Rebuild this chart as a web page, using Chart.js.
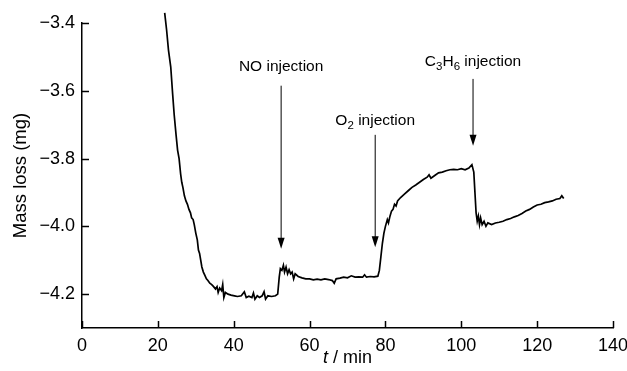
<!DOCTYPE html>
<html>
<head>
<meta charset="utf-8">
<script src="https://cdn.jsdelivr.net/npm/chart.js@4"></script>
<style>
  html, body { margin: 0; padding: 0; background: #fff; }
  #wrap { width: 627px; height: 371px; }
</style>
</head>
<body>
<div id="wrap"><canvas id="massChart" width="627" height="371"></canvas></div>
<script>
// time (min) and mass loss (mg)
const times = [
  21.8, 22.3, 22.8, 23.4, 23.9, 24.3, 24.8, 25.2, 25.6, 26.0, 26.3, 26.6, 27.0, 27.4, 27.8,
  28.2, 28.6, 28.9, 29.3, 29.6, 30.0, 30.4, 30.7, 31.0, 31.3, 31.6, 32.0, 32.4, 32.8, 33.2,
  33.7, 34.2, 34.7, 35.2, 35.6, 35.9, 36.3, 36.8, 37.1, 37.4, 37.8, 38.5, 39.3, 40.2, 41.0,
  42.0, 42.8, 43.3, 44.0, 44.8, 45.2, 45.6, 46.2, 46.8, 47.5, 48.0, 48.4, 49.0, 50.0, 51.0,
  51.6, 52.0, 52.3, 52.7, 53.1, 53.4, 53.8, 54.2, 54.6, 55.0, 55.4, 55.8, 56.2, 57.0, 58.0,
  59.0, 60.0, 61.0, 62.0, 63.0, 64.0, 65.0, 66.0, 66.5, 67.0, 68.0, 69.0, 70.0, 71.0, 72.0,
  73.0, 74.0, 74.5, 75.0, 76.0, 77.0, 78.0, 78.4, 78.8, 79.2, 79.6, 80.0, 80.5, 80.8, 81.2,
  81.6, 82.0, 82.4, 82.8, 83.2, 84.0, 85.0, 86.0, 87.0, 88.0, 89.0, 90.0, 91.0, 91.5, 92.0,
  93.0, 94.0, 95.0, 96.0, 97.0, 98.0, 99.0, 100.0, 101.0, 102.0, 102.8, 103.3, 103.6, 103.9, 104.2,
  104.5, 104.8, 105.1, 105.5, 106.0, 106.5, 107.0, 108.0, 109.0, 110.0, 111.0, 112.0, 113.0, 114.0, 115.0,
  116.0, 117.0, 118.0, 119.0, 120.0, 121.0, 122.0, 123.0, 124.0, 125.0, 126.0, 126.5, 127.0
];
const massLoss = [
  -3.37, -3.42, -3.48, -3.53, -3.61, -3.67, -3.73, -3.775, -3.80, -3.845, -3.87, -3.885, -3.91, -3.925, -3.935,
  -3.95, -3.96, -3.975, -3.98, -3.995, -4.02, -4.04, -4.07, -4.08, -4.10, -4.12, -4.135, -4.145, -4.155, -4.16,
  -4.168, -4.172, -4.178, -4.185, -4.178, -4.195, -4.182, -4.19, -4.172, -4.21, -4.195, -4.20, -4.203, -4.205, -4.207,
  -4.205, -4.193, -4.21, -4.206, -4.21, -4.197, -4.215, -4.205, -4.21, -4.205, -4.193, -4.215, -4.205, -4.207, -4.205,
  -4.20, -4.15, -4.125, -4.13, -4.115, -4.135, -4.12, -4.14, -4.128, -4.14, -4.135, -4.155, -4.14, -4.148, -4.152,
  -4.155, -4.155, -4.158, -4.156, -4.158, -4.155, -4.157, -4.16, -4.168, -4.155, -4.153, -4.15, -4.152, -4.146, -4.15,
  -4.149, -4.15, -4.143, -4.15, -4.148, -4.149, -4.147, -4.13, -4.09, -4.05, -4.02, -4.00, -3.98, -3.99, -3.97,
  -3.955, -3.95, -3.935, -3.94, -3.925, -3.915, -3.905, -3.895, -3.885, -3.878, -3.87, -3.862, -3.855, -3.848, -3.858,
  -3.85, -3.842, -3.84, -3.836, -3.833, -3.832, -3.833, -3.83, -3.833, -3.828, -3.818, -3.84, -3.90, -3.96, -3.985,
  -3.97, -3.995, -3.975, -3.995, -3.985, -4.00, -3.99, -3.995, -3.99, -3.988, -3.985, -3.98, -3.977, -3.972, -3.968,
  -3.962, -3.955, -3.95, -3.943, -3.937, -3.935, -3.93, -3.928, -3.925, -3.92, -3.918, -3.91, -3.918
];

const xTicks = [0, 20, 40, 60, 80, 100, 120, 140];
const yTicks = [-4.2, -4.0, -3.8, -3.6, -3.4];

// injection markers: [label parts, time, arrow top, arrow tip, label baseline]
const injections = [
  { parts: [['NO injection', 0]], t: 52.5, top: -3.585, tip: -4.066, base: -3.542 },
  { parts: [['O', 0], ['2', 1], [' injection', 0]], t: 77.3, top: -3.73, tip: -4.062, base: -3.7 },
  { parts: [['C', 0], ['3', 1], ['H', 0], ['6', 1], [' injection', 0]], t: 103.1, top: -3.565, tip: -3.762, base: -3.528 }
];

const FONT = '"Liberation Sans", Arial, sans-serif';

const points = times.map((t, i) => ({ x: t, y: massLoss[i] }));

// draws inward ticks, arrows, labels and the x title
const extrasPlugin = {
  id: 'extras',
  afterDraw(chart) {
    const c = chart.ctx;
    const xs = chart.scales.x, ys = chart.scales.y;
    const area = chart.chartArea;
    c.save();
    c.strokeStyle = '#000';
    c.lineWidth = 1.5;
    xTicks.forEach(v => {
      const px = Math.round(xs.getPixelForValue(v)) + 0.5;
      c.beginPath();
      c.moveTo(px, area.bottom);
      c.lineTo(px, area.bottom - 7);
      c.stroke();
    });
    yTicks.forEach(v => {
      const py = Math.round(ys.getPixelForValue(v)) + 0.5;
      c.beginPath();
      c.moveTo(area.left, py);
      c.lineTo(area.left + 7, py);
      c.stroke();
    });

    // arrows + labels
    c.fillStyle = '#000';
    injections.forEach(inj => {
      const px = xs.getPixelForValue(inj.t);
      const y0 = ys.getPixelForValue(inj.top);
      const y1 = ys.getPixelForValue(inj.tip);
      c.lineWidth = 1;
      c.beginPath();
      c.moveTo(px, y0);
      c.lineTo(px, y1 - 9);
      c.stroke();
      c.beginPath();
      c.moveTo(px - 3.5, y1 - 11);
      c.lineTo(px + 3.5, y1 - 11);
      c.lineTo(px, y1);
      c.closePath();
      c.fill();

      const big = '15.5px ' + FONT, small = '11.5px ' + FONT;
      let w = 0;
      inj.parts.forEach(p => {
        c.font = p[1] ? small : big;
        w += c.measureText(p[0]).width;
      });
      let x = px - w / 2;
      const base = ys.getPixelForValue(inj.base);
      c.textBaseline = 'alphabetic';
      c.textAlign = 'left';
      inj.parts.forEach(p => {
        c.font = p[1] ? small : big;
        c.fillText(p[0], x, base + (p[1] ? 4 : 0));
        x += c.measureText(p[0]).width;
      });
    });

    // x axis title: italic t / min
    c.font = 'italic 18px ' + FONT;
    const tW = c.measureText('t').width;
    c.font = '18px ' + FONT;
    const rW = c.measureText(' / min').width;
    let tx = (area.left + area.right) / 2 - (tW + rW) / 2;
    c.textBaseline = 'alphabetic';
    c.font = 'italic 18px ' + FONT;
    c.fillText('t', tx, 363);
    c.font = '18px ' + FONT;
    c.fillText(' / min', tx + tW, 363);
    c.restore();
  }
};

const ctx = document.getElementById('massChart').getContext('2d');

const massChart = new Chart(ctx, {
  type: 'scatter',
  data: {
    datasets: [{
      data: points,
      showLine: true,
      borderColor: '#000',
      borderWidth: 1.7,
      pointRadius: 0,
      tension: 0,
      clip: false
    }]
  },
  options: {
    responsive: false,
    animation: false,
    layout: { padding: { top: 23, right: 14, left: 10, bottom: 0 } },
    plugins: {
      legend: { display: false },
      tooltip: { enabled: false }
    },
    scales: {
      x: {
        type: 'linear',
        min: 0,
        max: 140,
        afterBuildTicks: axis => { axis.ticks = xTicks.map(v => ({ value: v })); },
        afterFit: axis => {
          axis.height = 43;
          axis.paddingLeft = 0;
          axis.paddingRight = 0;
        },
        grid: { display: false, drawTicks: false },
        border: { display: true, color: '#000', width: 1.5 },
        ticks: {
          color: '#000',
          padding: 7,
          maxRotation: 0,
          font: { family: FONT, size: 18 }
        }
      },
      y: {
        type: 'linear',
        min: -4.3,
        max: -3.4,
        afterBuildTicks: axis => { axis.ticks = yTicks.map(v => ({ value: v })); },
        afterFit: axis => {
          axis.width = 72;
          axis.paddingTop = 0;
          axis.paddingBottom = 0;
        },
        grid: { display: false, drawTicks: false },
        border: { display: true, color: '#000', width: 1.5 },
        title: {
          display: true,
          text: 'Mass loss (mg)',
          color: '#000',
          padding: { top: 0, bottom: 0 },
          font: { family: FONT, size: 18.5 }
        },
        ticks: {
          color: '#000',
          padding: 7,
          font: { family: FONT, size: 18 },
          callback: v => '\u2212' + Math.abs(v).toFixed(1)
        }
      }
    }
  },
  plugins: [extrasPlugin]
});
</script>
</body>
</html>
